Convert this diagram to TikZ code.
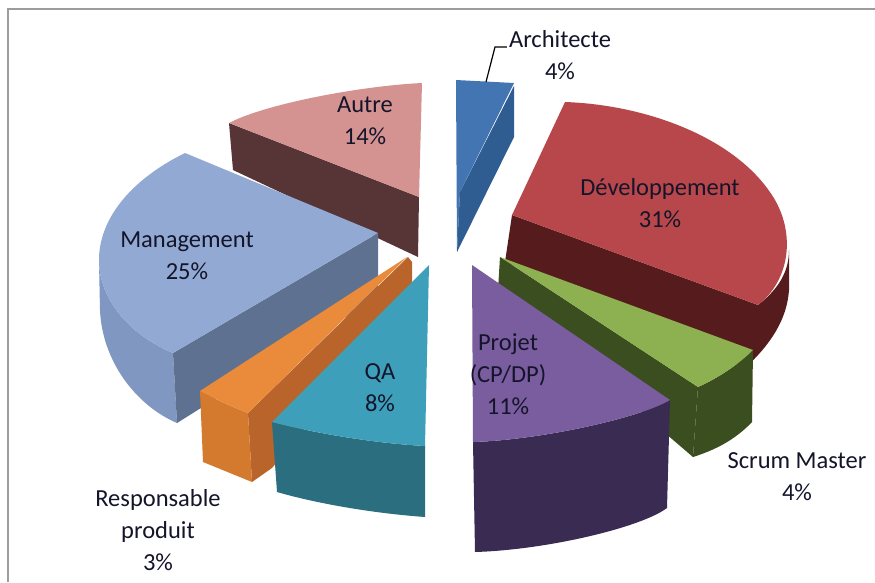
\documentclass[tikz,border=0pt]{standalone}
\usepackage{fontspec}
\newfontfamily\chartfont{Carlito}
\definecolor{framegray}{HTML}{9C9C9C}
\definecolor{labeltext}{HTML}{14142A}
\definecolor{archtop}{HTML}{4375B3}
\definecolor{archside}{HTML}{2F5C91}
\definecolor{devtop}{HTML}{B7474A}
\definecolor{devside}{HTML}{561B1C}
\definecolor{scrumtop}{HTML}{8DB050}
\definecolor{scrumside}{HTML}{3A4E1F}
\definecolor{projtop}{HTML}{7A5D9E}
\definecolor{projside}{HTML}{3A2B52}
\definecolor{qatop}{HTML}{3E9FBA}
\definecolor{qaside}{HTML}{2A6E7F}
\definecolor{resptop}{HTML}{E98B3B}
\definecolor{respfront}{HTML}{D37A2F}
\definecolor{respside}{HTML}{B8642A}
\definecolor{mgmttop}{HTML}{92AAD3}
\definecolor{mgmtfront}{HTML}{8097C2}
\definecolor{mgmtside}{HTML}{5F7190}
\definecolor{autretop}{HTML}{D49391}
\definecolor{autreside}{HTML}{573536}
\begin{document}
\begin{tikzpicture}
    [x=1pt, y=-1pt,
      lbl/.style={font=\chartfont\fontsize{24.5}{32}\selectfont, align=center,
        text=labeltext, inner sep=0pt},
      leader/.style={draw=black, line width=1.2pt},
     ]
    \useasboundingbox (0,0) rectangle (875,582);
    \fill[white] (0,0) rectangle (875,582);
    \draw[framegray, line width=1.5pt] (8,582) -- (8,9) -- (875,9);

    % Autre
    \fill[autreside] (229,123) -- (419,197) -- (418,257) -- (233,170) -- cycle;
    \fill[autretop] (229,123) .. controls (265,104) and (360,86) .. (422,83)
      -- (419,197) -- cycle;

    % Architecte
    \fill[archtop] (456,80) -- (514,83) -- (460,192) -- (457,252) -- cycle;
    \fill[archside] (514,86) -- (514,137) -- (457,252) -- (460,192) -- cycle;

    % Developpement
    \fill[devside] (512,215) -- (758,305) .. controls (780,288) and (789,270) .. (789,250)
      -- (789,290) .. controls (787,320) and (770,345) .. (745,368) -- (505,262) -- cycle;
    \fill[devtop] (512,215) -- (565,102) .. controls (650,105) and (740,140) .. (775,200)
      .. controls (795,235) and (790,280) .. (758,305) -- cycle;

    % Management
    \fill[mgmtfront] (99,262) .. controls (100,300) and (130,335) .. (173,353)
      -- (177,423) .. controls (135,405) and (102,360) .. (100,310) -- cycle;
    \fill[mgmtside] (173,353) -- (378,233) -- (378,297) -- (177,423) -- cycle;
    \fill[mgmttop] (378,233) -- (185,153) .. controls (130,180) and (98,220) .. (99,262)
      .. controls (100,300) and (130,335) .. (173,353) -- cycle;

    % Scrum Master
    \fill[scrumside] (500,257) -- (698,387) -- (693,457) -- (498,290) -- cycle;
    \fill[scrumside] (698,387) .. controls (718,378) and (738,365) .. (753,350)
      -- (752,422) .. controls (735,440) and (715,450) .. (693,457) -- cycle;
    \fill[scrumtop] (500,257) -- (753,350) .. controls (738,365) and (718,378) .. (698,387) -- cycle;

    % Responsable produit
    \fill[respside] (248,413) -- (408,257) -- (412,262) -- (412,300) -- (272,468) -- (252,482) -- cycle;
    \fill[respfront] (200,391) .. controls (215,399) and (230,406) .. (248,413)
      -- (252,482) -- (203,462) -- cycle;
    \fill[resptop] (200,391) -- (407,257) -- (248,413) .. controls (230,406) and (215,399) .. (200,391) -- cycle;

    % QA
    \fill[qaside] (272,422) .. controls (310,432) and (370,443) .. (425,446)
      -- (425,517) .. controls (370,513) and (315,503) .. (277,492) -- cycle;
    \fill[qatop] (429,265) -- (272,422) .. controls (310,432) and (370,443) .. (425,446) -- cycle;

    % Projet
    \fill[projside] (473,442) .. controls (540,440) and (640,418) .. (670,400)
      -- (667,508) .. controls (640,528) and (545,550) .. (475,552) -- cycle;
    \fill[projtop] (472,265) -- (670,400) .. controls (640,418) and (540,440) .. (473,442) -- cycle;

    % labels
    \node[lbl] (lblarch) at (560,55) {Architecte\\4\%};
    \node[lbl] (lblautre) at (365,121) {Autre\\14\%};
    \node[lbl] (lbldev) at (660,203) {Développement\\31\%};
    \node[lbl] (lblmgmt) at (187,256) {Management\\25\%};
    \node[lbl] (lblqa) at (380,388) {QA\\8\%};
    \node[lbl] (lblproj) at (508,374) {Projet\\(CP/DP)\\11\%};
    \node[lbl] (lblscrum) at (797,477) {Scrum Master\\4\%};
    \node[lbl] (lblresp) at (158,530) {Responsable\\produit\\3\%};

    \coordinate (archpin) at (486,82);
    \coordinate (archknee) at (495,47);
    \coordinate (archend) at (lblarch.north west |- 0,47);
    \draw[leader] (archpin) -- (archknee) -- ([xshift=-2pt]archend);
\end{tikzpicture}
\end{document}
